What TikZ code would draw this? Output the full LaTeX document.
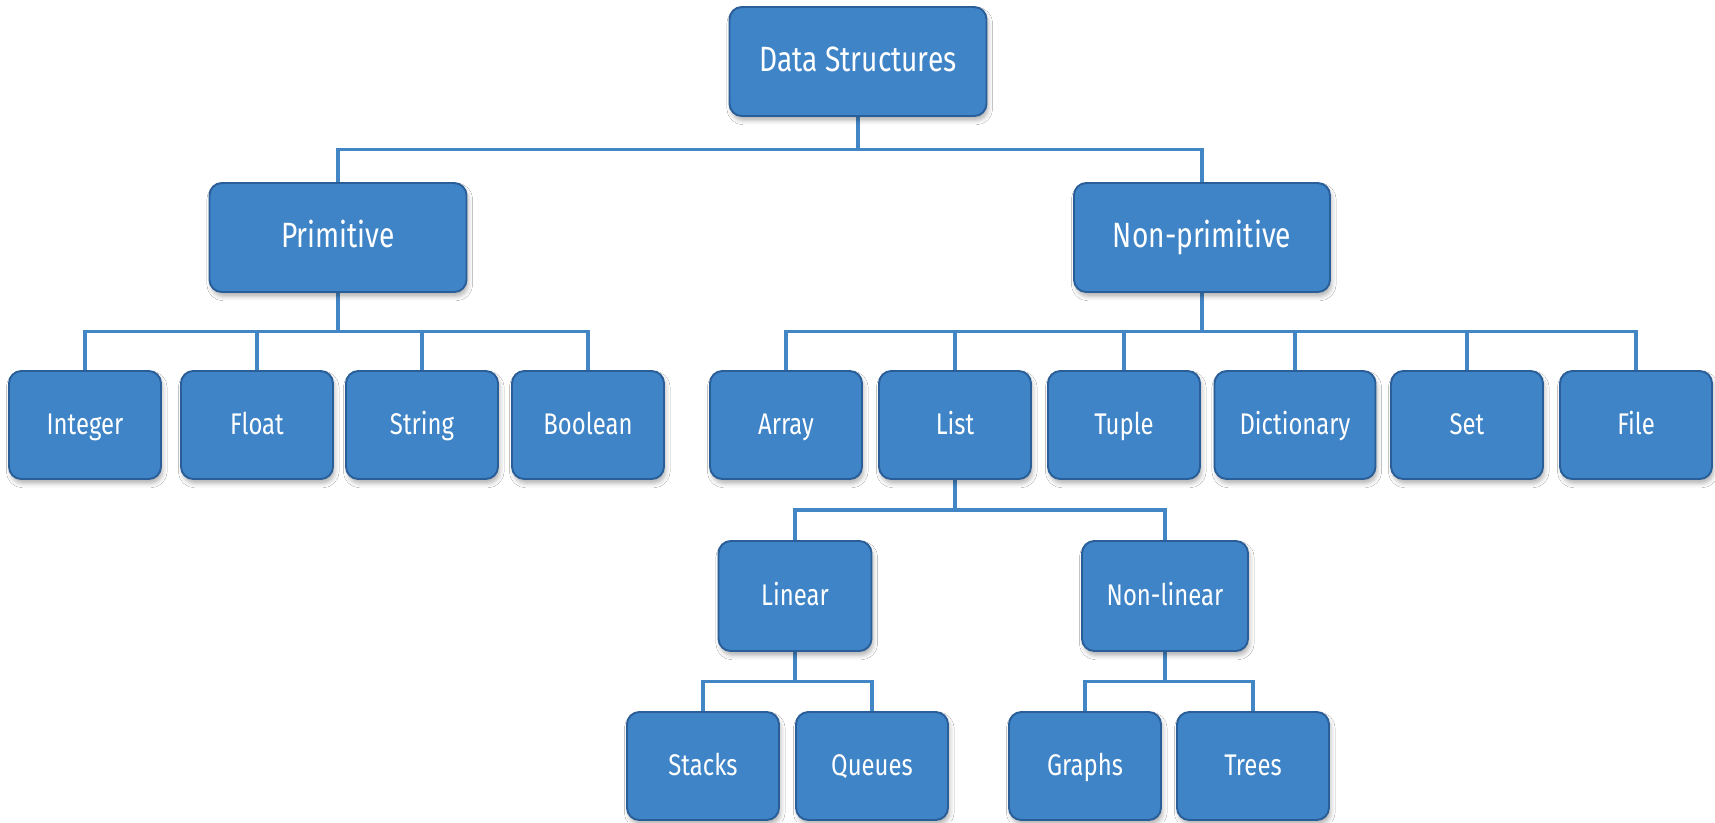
\documentclass[tikz,border=0pt]{standalone}
\usepackage{fontspec}
\setmainfont{Fira Sans}[FakeStretch=0.8]
\usepackage{xcolor}
\definecolor{dsfill}{RGB}{63,132,199}
\definecolor{dsedge}{RGB}{42,94,152}
\definecolor{dslink}{RGB}{66,134,198}
\usepackage{tikz}
\usetikzlibrary{positioning, calc, shadows.blur, backgrounds}

\tikzset{
  box/.style={draw=dsedge, line width=1.1pt, fill=dsfill, rounded corners=7pt,
              text=white, align=center, text height=1.12em, text depth=0pt,
              blur shadow={shadow xshift=1pt, shadow yshift=-2.5pt,
                           shadow blur radius=2.5pt, shadow opacity=30}},
  bigbox/.style={box, minimum width=5.14cm, minimum height=2.18cm,
                 font=\fontsize{20}{24}\selectfont},
  leaf/.style={box, minimum width=3.04cm, minimum height=2.16cm,
               font=\fontsize{17}{20}\selectfont},
  link/.style={dslink, line width=2pt},
  elbow/.style={to path={(\tikztostart) |- ($(\tikztostart)!0.5!(\tikztotarget)$) -| (\tikztotarget)}}
}

\begin{document}
\begin{tikzpicture}

\useasboundingbox (0,0) rectangle (34.3,-16.44);

% === Root and the two main kinds ===
\node[bigbox] (ds) at (17.16,-1.23) {Data Structures};
\node[bigbox] (prim) at (6.76,-4.75) {Primitive};
\node[bigbox, minimum width=5.12cm] (nonprim) at (24.04,-4.75) {Non-primitive};

% === Primitive types ===
\node[leaf] (int) at (1.70,-8.5) {Integer};
\node[leaf] (float) at (5.14,-8.5) {Float};
\node[leaf] (str) at (8.44,-8.5) {String};
\node[leaf] (bool) at (11.76,-8.5) {Boolean};

% === Non-primitive types ===
\node[leaf] (arr) at (15.72,-8.5) {Array};
\node[leaf] (lst) at (19.10,-8.5) {List};
\node[leaf] (tup) at (22.48,-8.5) {Tuple};
\node[leaf, minimum width=3.22cm] (dict) at (25.90,-8.5) {Dictionary};
\node[leaf] (set) at (29.34,-8.5) {Set};
\node[leaf] (file) at (32.72,-8.5) {File};

% === List split ===
\node[leaf, minimum width=3.06cm, minimum height=2.2cm] (lin) at (15.90,-11.92) {Linear};
\node[leaf, minimum width=3.32cm, minimum height=2.2cm] (nonlin) at (23.30,-11.92) {Non-linear};

\node[leaf] (stk) at (14.06,-15.32) {Stacks};
\node[leaf] (que) at (17.44,-15.32) {Queues};
\node[leaf] (grph) at (21.70,-15.32) {Graphs};
\node[leaf] (tree) at (25.06,-15.32) {Trees};

% Connectors (kept behind the boxes)
\begin{pgfonlayer}{background}
  \fill[white] (0,0) rectangle (34.3,-16.44);
  \foreach \c in {prim,nonprim}
    \draw[link] (ds.south) to[elbow] (\c.north);
  \foreach \c in {int,float,str,bool}
    \draw[link] (prim.south) to[elbow] (\c.north);
  \foreach \c in {arr,lst,tup,dict,set,file}
    \draw[link] (nonprim.south) to[elbow] (\c.north);
  \foreach \c in {lin,nonlin}
    \draw[link] (lst.south) to[elbow] (\c.north);
  \foreach \c in {stk,que}
    \draw[link] (lin.south) to[elbow] (\c.north);
  \foreach \c in {grph,tree}
    \draw[link] (nonlin.south) to[elbow] (\c.north);
\end{pgfonlayer}

\end{tikzpicture}
\end{document}
